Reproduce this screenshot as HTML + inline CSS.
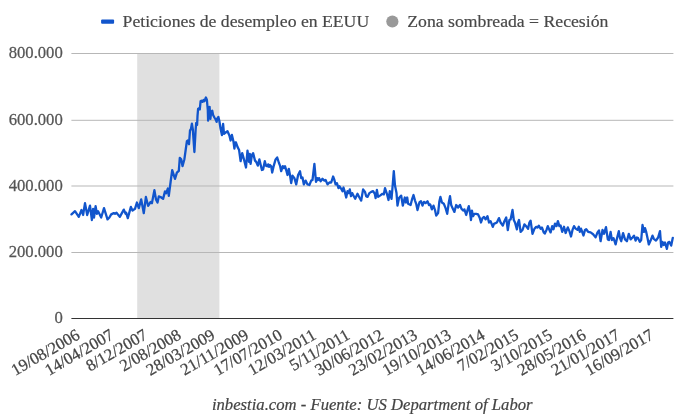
<!DOCTYPE html>
<html><head><meta charset="utf-8"><style>
html,body{margin:0;padding:0;background:#fff;}
#w{width:680px;height:419px;will-change:transform;}
svg{display:block;font-family:"Liberation Serif",serif;}
</style></head><body><div id="w">
<svg width="680" height="419" viewBox="0 0 680 419">
<rect x="137.2" y="53" width="82.2" height="265.5" fill="#e0e0e0"/>
<g stroke="#b7b7b7" stroke-width="1">
<line x1="71.4" x2="673.4" y1="53.5" y2="53.5"/>
<line x1="71.4" x2="673.4" y1="120.3" y2="120.3"/>
<line x1="71.4" x2="673.4" y1="186" y2="186"/>
<line x1="71.4" x2="673.4" y1="252.5" y2="252.5"/>
</g>
<line x1="71.4" x2="673.4" y1="318.5" y2="318.5" stroke="#333" stroke-width="1"/>
<g font-size="16.67" fill="#555" stroke="#555" stroke-width="0.25" text-anchor="end">
<text x="62.8" y="58.2" transform="translate(0 58.2) scale(1 1.03) translate(0 -58.2)">800.000</text>
<text x="62.8" y="124.7" transform="translate(0 124.7) scale(1 1.03) translate(0 -124.7)">600.000</text>
<text x="62.8" y="190.8" transform="translate(0 190.8) scale(1 1.03) translate(0 -190.8)">400.000</text>
<text x="62.8" y="257.2" transform="translate(0 257.2) scale(1 1.03) translate(0 -257.2)">200.000</text>
<text x="62.8" y="323.2" transform="translate(0 323.2) scale(1 1.03) translate(0 -323.2)">0</text>
</g>
<path d="M71.5,214.4 L75.0,211.2 L78.8,216.9 L81.5,210.0 L83.1,215.0 L85.0,203.1 L87.2,215.0 L90.0,205.6 L91.9,220.0 L93.1,208.8 L94.0,217.5 L95.6,206.2 L96.9,213.8 L98.1,211.2 L101.2,217.5 L104.0,208.1 L107.5,219.4 L109.4,217.5 L111.2,214.4 L113.8,213.1 L115.0,213.8 L116.5,212.8 L119.8,216.9 L123.8,209.6 L125.6,213.8 L126.2,212.8 L127.8,218.1 L130.9,206.9 L132.5,210.6 L135.0,208.8 L136.9,202.5 L138.8,208.1 L141.2,199.4 L143.8,213.2 L145.9,197.0 L148.1,205.8 L150.6,202.0 L151.9,203.2 L154.4,190.1 L156.0,199.5 L157.5,202.6 L158.8,196.4 L160.6,197.0 L163.1,198.9 L165.0,191.4 L166.2,193.2 L167.8,188.5 L168.8,195.8 L170.6,182.0 L172.2,170.1 L175.0,178.9 L176.9,172.6 L178.8,170.8 L179.8,157.8 L181.2,159.2 L182.5,166.1 L184.4,159.2 L185.6,150.5 L186.9,141.1 L187.8,140.5 L189.0,144.2 L190.0,130.5 L190.9,129.2 L191.9,123.6 L192.8,129.2 L194.4,152.0 L195.6,130.5 L196.2,123.0 L197.1,124.9 L197.5,116.2 L198.1,108.8 L199.0,108.1 L199.8,109.4 L200.6,101.2 L201.5,100.6 L202.5,101.9 L203.5,100.0 L204.4,101.2 L205.9,97.5 L206.9,100.0 L207.8,110.0 L208.1,120.6 L209.0,107.5 L209.6,106.9 L210.4,118.8 L211.2,111.9 L212.2,110.6 L213.1,115.0 L214.4,117.5 L215.6,119.4 L216.6,121.9 L217.5,118.1 L218.4,116.9 L219.4,121.2 L220.6,128.8 L221.9,135.0 L222.8,126.9 L223.1,123.8 L224.0,133.8 L225.6,132.5 L227.5,131.2 L229.4,135.5 L230.6,140.5 L231.9,134.9 L233.5,141.8 L234.4,148.6 L235.4,142.4 L236.0,142.5 L237.5,146.9 L239.1,150.0 L240.6,161.2 L242.2,153.1 L243.8,158.8 L246.0,167.5 L247.5,150.6 L249.0,161.9 L249.8,153.8 L250.6,163.8 L251.9,155.0 L253.1,153.1 L255.0,160.6 L256.2,161.9 L257.8,165.6 L259.4,159.4 L260.6,164.4 L261.9,170.0 L263.1,169.4 L264.8,161.2 L266.0,165.6 L267.2,166.2 L268.1,164.4 L269.0,166.9 L270.0,165.0 L271.2,166.2 L272.2,172.5 L273.8,165.6 L275.6,159.4 L277.2,157.5 L278.8,162.5 L280.0,165.6 L281.2,171.2 L282.8,166.2 L284.0,168.1 L285.0,166.2 L286.5,171.2 L287.5,175.0 L288.8,168.8 L290.0,175.0 L291.2,183.1 L292.5,175.6 L294.4,178.1 L296.2,184.4 L298.1,175.0 L300.0,171.2 L301.2,178.1 L302.5,177.5 L303.8,184.4 L305.6,180.6 L307.5,184.4 L309.4,185.0 L311.2,180.6 L312.5,180.0 L314.4,163.8 L316.0,181.9 L317.2,178.1 L318.1,180.0 L319.0,178.1 L320.6,181.2 L322.5,178.8 L324.4,180.6 L325.6,180.0 L327.5,184.4 L329.4,182.5 L331.2,182.5 L333.1,176.5 L334.4,180.0 L335.6,184.4 L336.9,183.1 L338.5,188.1 L339.4,186.2 L341.2,188.8 L342.5,191.2 L343.5,187.5 L345.0,192.5 L346.2,197.5 L347.5,191.2 L348.8,193.1 L349.8,189.4 L351.0,196.2 L352.2,193.1 L353.8,196.2 L355.2,198.8 L357.5,193.8 L359.4,197.5 L361.2,200.6 L363.1,189.4 L365.0,191.9 L366.2,196.2 L367.5,196.9 L369.4,193.1 L371.2,191.9 L373.1,191.2 L374.8,193.8 L375.6,198.1 L376.9,190.0 L378.1,196.9 L380.0,195.6 L382.5,193.8 L383.8,194.4 L385.0,188.1 L386.9,193.8 L388.5,200.0 L389.8,191.2 L391.5,198.8 L392.5,187.5 L393.8,171.2 L395.0,185.6 L396.5,193.1 L397.5,205.6 L399.0,198.1 L401.2,195.6 L402.8,205.6 L404.8,197.5 L406.0,202.5 L407.2,197.5 L408.1,203.8 L410.6,205.0 L412.2,198.8 L413.5,195.0 L415.0,200.6 L416.2,203.8 L417.5,210.0 L419.4,202.5 L421.0,201.2 L422.5,205.6 L424.0,201.9 L425.6,203.1 L427.5,201.2 L429.0,205.0 L430.2,204.4 L431.9,209.4 L433.5,205.6 L435.0,210.0 L436.2,215.6 L438.1,213.1 L439.4,201.2 L440.4,196.9 L441.9,202.5 L443.8,203.8 L445.6,208.1 L447.2,213.8 L448.8,202.5 L450.0,196.2 L451.2,205.0 L452.5,208.1 L454.4,211.9 L456.2,205.0 L458.1,207.5 L460.0,205.0 L461.5,208.8 L463.1,210.6 L464.4,209.4 L466.2,215.0 L467.5,210.0 L468.8,206.2 L470.2,213.8 L471.0,220.0 L471.9,210.6 L473.1,216.2 L474.4,213.8 L476.2,213.8 L478.1,214.4 L479.8,218.1 L481.0,222.5 L482.5,218.1 L484.0,216.9 L485.6,219.4 L487.5,216.2 L489.0,222.5 L490.6,221.2 L492.8,226.9 L494.0,223.8 L495.6,223.1 L496.9,222.5 L499.0,218.1 L500.6,222.5 L502.8,225.6 L504.4,221.2 L506.2,217.5 L507.8,230.0 L509.4,220.0 L510.6,219.4 L512.5,210.0 L513.8,220.0 L515.0,222.5 L516.9,229.4 L517.8,223.1 L519.0,220.0 L520.6,231.9 L522.5,230.0 L524.4,224.4 L526.2,226.2 L528.1,228.8 L529.4,222.5 L530.6,220.6 L532.5,233.8 L534.4,228.8 L536.2,226.9 L537.5,227.5 L538.8,225.6 L540.6,228.8 L541.9,227.5 L543.8,232.5 L544.8,233.6 L546.5,229.9 L547.8,226.1 L549.4,229.9 L550.6,232.4 L552.2,226.1 L553.5,229.2 L555.0,223.6 L556.5,226.1 L557.9,221.1 L559.4,226.1 L560.6,225.5 L562.2,231.8 L564.0,226.8 L565.6,233.0 L567.8,227.4 L569.4,231.1 L571.0,236.5 L572.5,229.9 L574.0,226.1 L575.6,228.6 L577.5,229.9 L578.8,226.8 L579.8,231.8 L581.0,228.6 L583.5,235.5 L585.0,229.9 L586.2,229.2 L588.1,231.8 L590.6,232.4 L593.1,234.2 L595.6,237.4 L597.5,232.4 L599.0,230.5 L600.6,241.2 L602.5,230.0 L604.0,233.8 L606.0,227.2 L607.8,239.4 L609.0,240.0 L610.6,231.9 L611.9,240.0 L613.5,238.1 L614.4,240.6 L615.6,244.4 L617.2,237.5 L618.8,231.2 L620.0,238.1 L621.2,241.2 L623.1,233.1 L625.0,239.4 L626.9,241.2 L628.8,233.8 L630.6,239.4 L632.5,237.5 L634.0,235.6 L635.6,240.6 L636.9,237.5 L638.1,238.1 L639.8,241.9 L641.2,240.0 L642.5,225.0 L644.0,231.9 L645.0,228.1 L646.2,231.9 L647.5,238.1 L648.8,244.4 L650.6,240.6 L652.5,235.6 L653.8,238.8 L656.0,240.6 L658.1,237.5 L660.0,231.2 L661.2,246.9 L662.5,241.9 L663.8,245.0 L665.0,242.5 L666.9,248.8 L668.1,242.5 L669.4,241.9 L671.2,245.6 L672.8,237.8" fill="none" stroke="#1155cc" stroke-width="2.3" stroke-linejoin="round" stroke-linecap="round"/>
<g font-size="16.67" fill="#444" stroke="#444" stroke-width="0.25">
<text x="80.90" y="338" text-anchor="end" transform="rotate(-30 80.90 338)">19/08/2006</text>
<text x="114.66" y="338" text-anchor="end" transform="rotate(-30 114.66 338)">14/04/2007</text>
<text x="148.41" y="338" text-anchor="end" transform="rotate(-30 148.41 338)">8/12/2007</text>
<text x="182.17" y="338" text-anchor="end" transform="rotate(-30 182.17 338)">2/08/2008</text>
<text x="215.92" y="338" text-anchor="end" transform="rotate(-30 215.92 338)">28/03/2009</text>
<text x="249.68" y="338" text-anchor="end" transform="rotate(-30 249.68 338)">21/11/2009</text>
<text x="283.43" y="338" text-anchor="end" transform="rotate(-30 283.43 338)">17/07/2010</text>
<text x="317.19" y="338" text-anchor="end" transform="rotate(-30 317.19 338)">12/03/2011</text>
<text x="350.94" y="338" text-anchor="end" transform="rotate(-30 350.94 338)">5/11/2011</text>
<text x="384.70" y="338" text-anchor="end" transform="rotate(-30 384.70 338)">30/06/2012</text>
<text x="418.45" y="338" text-anchor="end" transform="rotate(-30 418.45 338)">23/02/2013</text>
<text x="452.21" y="338" text-anchor="end" transform="rotate(-30 452.21 338)">19/10/2013</text>
<text x="485.96" y="338" text-anchor="end" transform="rotate(-30 485.96 338)">14/06/2014</text>
<text x="519.72" y="338" text-anchor="end" transform="rotate(-30 519.72 338)">7/02/2015</text>
<text x="553.47" y="338" text-anchor="end" transform="rotate(-30 553.47 338)">3/10/2015</text>
<text x="587.23" y="338" text-anchor="end" transform="rotate(-30 587.23 338)">28/05/2016</text>
<text x="620.98" y="338" text-anchor="end" transform="rotate(-30 620.98 338)">21/01/2017</text>
<text x="654.74" y="338" text-anchor="end" transform="rotate(-30 654.74 338)">16/09/2017</text>
</g>
<rect x="101.1" y="19.5" width="13" height="4.2" rx="1" fill="#1155cc"/>
<text x="122.6" y="26.6" font-size="17.7" fill="#484848" stroke="#484848" stroke-width="0.2">Peticiones de desempleo en EEUU</text>
<circle cx="392.35" cy="21.5" r="6.1" fill="#999"/>
<text x="407.3" y="26.6" font-size="17.7" fill="#484848" stroke="#484848" stroke-width="0.2">Zona sombreada = Recesión</text>
<text x="372.25" y="410.4" transform="translate(0 410.4) scale(1 1.04) translate(0 -410.4)" font-size="16.67" font-style="italic" fill="#444" stroke="#444" stroke-width="0.2" text-anchor="middle">inbestia.com - Fuente: US Department of Labor</text>
</svg></div>
</body></html>
